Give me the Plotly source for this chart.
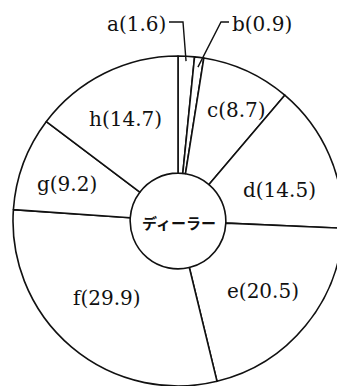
import numpy as np
import plotly.graph_objects as go

# the page body has an 8px margin, so the figure is drawn 8px smaller and shifted
OFF = 8
W, H = 345 - OFF, 386 - OFF

# shares of each segment (%)
names = ['a', 'b', 'c', 'd', 'e', 'f', 'g', 'h']
shares = [1.6, 0.9, 8.7, 14.5, 20.5, 29.9, 9.2, 14.7]
center_label = 'ディーラー'

# pie geometry in window pixels
CX, CY, R = 178, 221, 165
HOLE = 0.29
LABEL_FONT = dict(family='DejaVu Serif', size=20, color='#111')
# small hand nudges of the inside labels (px)
NUDGE = {'c': (12, -11), 'd': (0, 13), 'f': (0, -8), 'g': (-7, 2), 'h': (-3, -3)}


def px(x):
    return (x - OFF) / W


def py(y):
    return 1 - (y - OFF) / H


fig = go.Figure()
fig.add_trace(go.Pie(
    labels=names, values=shares, sort=False, direction='clockwise', rotation=0,
    hole=HOLE, textinfo='none', hoverinfo='label+value', showlegend=False,
    marker=dict(colors=['white'] * len(names), line=dict(color='#111', width=1.6)),
    domain=dict(x=[px(CX - R), px(CX + R)], y=[py(CY + R), py(CY - R)]),
))

# mid angle of each slice, clockwise from 12 o'clock
cum = np.cumsum([0] + shares)
mid = (cum[:-1] + cum[1:]) / 2 / 100 * 2 * np.pi


def at(i, r):
    return CX + r * np.sin(mid[i]), CY - r * np.cos(mid[i])


annotations = []
for i, (n, v) in enumerate(zip(names, shares)):
    if v < 5:
        continue
    x, y = at(i, 0.67 * R)
    dx, dy = NUDGE.get(n, (0, 0))
    annotations.append(dict(x=px(x + dx), y=py(y + dy), xref='paper', yref='paper',
                            xanchor='center', yanchor='middle',
                            text=f'{n}({v})', showarrow=False, font=LABEL_FONT))

# small slices get labels outside with leader lines
ax, ay = at(0, 0.97 * R)
bx, by = at(1, 0.94 * R)
annotations.append(dict(x=px(168), y=py(24), xref='paper', yref='paper',
                        xanchor='right', yanchor='middle',
                        text=f'{names[0]}({shares[0]})', showarrow=False, font=LABEL_FONT))
annotations.append(dict(x=px(230), y=py(24), xref='paper', yref='paper',
                        xanchor='left', yanchor='middle',
                        text=f'{names[1]}({shares[1]})', showarrow=False, font=LABEL_FONT))
annotations.append(dict(x=px(CX + 1), y=py(CY + 1), xref='paper', yref='paper',
                        xanchor='center', yanchor='middle', showarrow=False,
                        text=center_label,
                        font=dict(family='Noto Sans CJK JP', size=15, color='#111', weight='bold')))

shapes = [
    dict(type='path', xref='paper', yref='paper',
         path=f'M {px(169)} {py(22)} L {px(183)} {py(22)} L {px(ax)} {py(ay)}',
         line=dict(color='#111', width=1.4)),
    dict(type='path', xref='paper', yref='paper',
         path=f'M {px(229)} {py(22)} L {px(221)} {py(22)} L {px(bx)} {py(by)}',
         line=dict(color='#111', width=1.4)),
]

fig.update_layout(width=W, height=H, margin=dict(l=0, r=0, t=0, b=0),
                  paper_bgcolor='white', plot_bgcolor='white',
                  annotations=annotations, shapes=shapes)

fig.write_html("out.html")
